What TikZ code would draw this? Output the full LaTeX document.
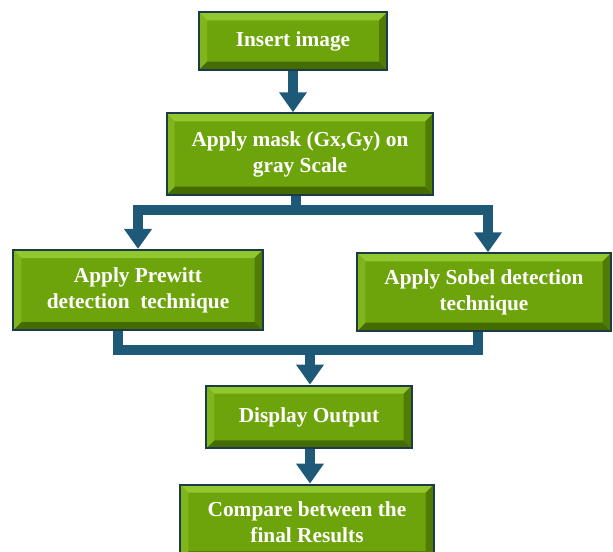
\documentclass[tikz,border=0pt]{standalone}
\usepackage{fontspec}
\setmainfont{Liberation Serif}
\usetikzlibrary{arrows.meta}

\begin{document}
\begin{tikzpicture}[x=0.75pt, y=-0.75pt]
    \definecolor{boxface}{HTML}{6EA40B}
\definecolor{boxtop}{HTML}{92C82E}
\definecolor{boxleft}{HTML}{80B61C}
\definecolor{boxright}{HTML}{507C04}
\definecolor{boxbottom}{HTML}{456C02}
\definecolor{boxedge}{HTML}{1B3A4A}
\definecolor{flow}{HTML}{1E5A78}

\newcommand\bevel{6pt}
\newcommand\ppb{path picture bounding box}

\tikzset{
    stepbox/.style={
        draw=boxedge, line width=1.6pt, fill=boxface,
        text=white, align=center, inner sep=0pt,
        font=\bfseries\fontsize{16}{19.5}\selectfont,
        path picture={
            \fill[boxtop] (\ppb.north west) -- (\ppb.north east)
                -- ([xshift=-\bevel, yshift=-\bevel]\ppb.north east)
                -- ([xshift=\bevel, yshift=-\bevel]\ppb.north west) -- cycle;
            \fill[boxbottom] (\ppb.south west) -- (\ppb.south east)
                -- ([xshift=-\bevel, yshift=\bevel]\ppb.south east)
                -- ([xshift=\bevel, yshift=\bevel]\ppb.south west) -- cycle;
            \fill[boxleft] (\ppb.north west) -- (\ppb.south west)
                -- ([xshift=\bevel, yshift=\bevel]\ppb.south west)
                -- ([xshift=\bevel, yshift=-\bevel]\ppb.north west) -- cycle;
            \fill[boxright] (\ppb.north east) -- (\ppb.south east)
                -- ([xshift=-\bevel, yshift=\bevel]\ppb.south east)
                -- ([xshift=-\bevel, yshift=-\bevel]\ppb.north east) -- cycle;
        },
    },
    flowline/.style={
        draw=flow, line width=7.5pt, line join=miter,
    },
    flowarrow/.style={
        flowline, -{Triangle[width=20pt, length=15pt]},
    },
}

\useasboundingbox (0, 0) rectangle (613, 552);

\node[stepbox, minimum width=141pt, minimum height=43pt]
    at (293, 41) (insert) {Insert image};
\node[stepbox, minimum width=200pt, minimum height=61pt]
    at (300, 154) (mask) {Apply mask (Gx,Gy) on\\gray Scale};
\node[stepbox, minimum width=187pt, minimum height=60pt]
    at (138, 290) (prewitt) {Apply Prewitt\\detection\ \ technique};
\node[stepbox, minimum width=190pt, minimum height=58pt]
    at (484, 292) (sobel) {Apply Sobel detection\\technique};
\node[stepbox, minimum width=154pt, minimum height=47pt]
    at (309, 417) (display) {Display Output};
\node[stepbox, minimum width=190pt, minimum height=56pt]
    at (307, 522) (compare) {Compare between the\\final Results};

\coordinate (split) at (296, 210);
\coordinate (merge) at (310, 350);

\draw[flowarrow] (insert) -- (insert |- mask.north);

\draw[flowline] (mask.south -| split) -- (split);
\draw[flowarrow] (split) -| (prewitt.north);
\draw[flowarrow] (split) -| ([xshift=3pt]sobel.north);

\draw[flowline] ([xshift=-15pt]prewitt.south) |- (merge);
\draw[flowline] ([xshift=-4.5pt]sobel.south) |- (merge);
\draw[flowarrow] (merge) -- (merge |- display.north);

\draw[flowarrow] (display.south -| merge) -- (merge |- compare.north);
\end{tikzpicture}
\end{document}
